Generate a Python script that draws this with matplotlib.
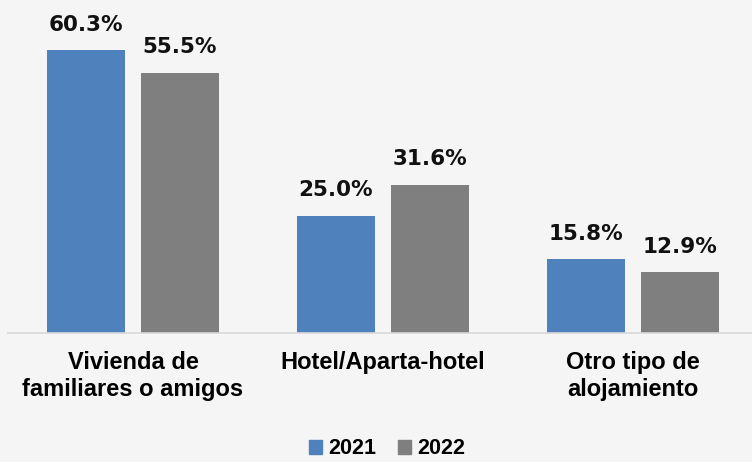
import matplotlib.pyplot as plt
from matplotlib.patches import Patch
import numpy as np

# data
categories = ["Vivienda de\nfamiliares o amigos", "Hotel/Aparta-hotel", "Otro tipo de\nalojamiento"]
years = ["2021", "2022"]
values_2021 = [60.3, 25.0, 15.8]
values_2022 = [55.5, 31.6, 12.9]

blue = "#4F81BD"
grey = "#7F7F7F"
bg = "#F5F5F5"

fig = plt.figure(figsize=(7.52, 4.62), dpi=100, facecolor=bg)
ax = fig.add_axes([8 / 752, 129 / 462, 744 / 752, 333 / 462], facecolor=bg)

x = np.arange(len(categories))
w = 0.312
off = 0.188
b1 = ax.bar(x - off, values_2021, w, color=blue)
b2 = ax.bar(x + off, values_2022, w, color=grey)

for bars, vals in [(b1, values_2021), (b2, values_2022)]:
    for b, v in zip(bars, vals):
        ax.annotate(f"{v:.1f}%", (b.get_x() + b.get_width() / 2, v),
                    xytext=(0, 11), textcoords="offset points",
                    ha="center", va="bottom", fontsize=15.5, fontweight="bold",
                    family="DejaVu Sans", color="#111111")

ax.set_xlim(-0.5, 2.476)
ax.set_ylim(0, 70.96)
ax.set_yticks([])
ax.set_xticks(x)
ax.set_xticklabels(categories, fontsize=17, fontweight="bold",
                   family="Liberation Sans", linespacing=1.2)
ax.tick_params(axis="x", length=0, pad=13)
for s in ["top", "right", "left"]:
    ax.spines[s].set_visible(False)
ax.spines["bottom"].set_color("#D9D9D9")
ax.spines["bottom"].set_linewidth(1.2)

handles = [Patch(color=blue), Patch(color=grey)]
fig.legend(handles, years, loc="center", bbox_to_anchor=(387 / 752, 1 - 449 / 462),
           ncol=2, frameon=False, handlelength=0.6, handleheight=0.6,
           handletextpad=0.3, columnspacing=1.0, borderpad=0,
           prop={"family": "Liberation Sans", "weight": "bold", "size": 15.5})

fig.savefig("out.png", dpi=100, facecolor=bg)
